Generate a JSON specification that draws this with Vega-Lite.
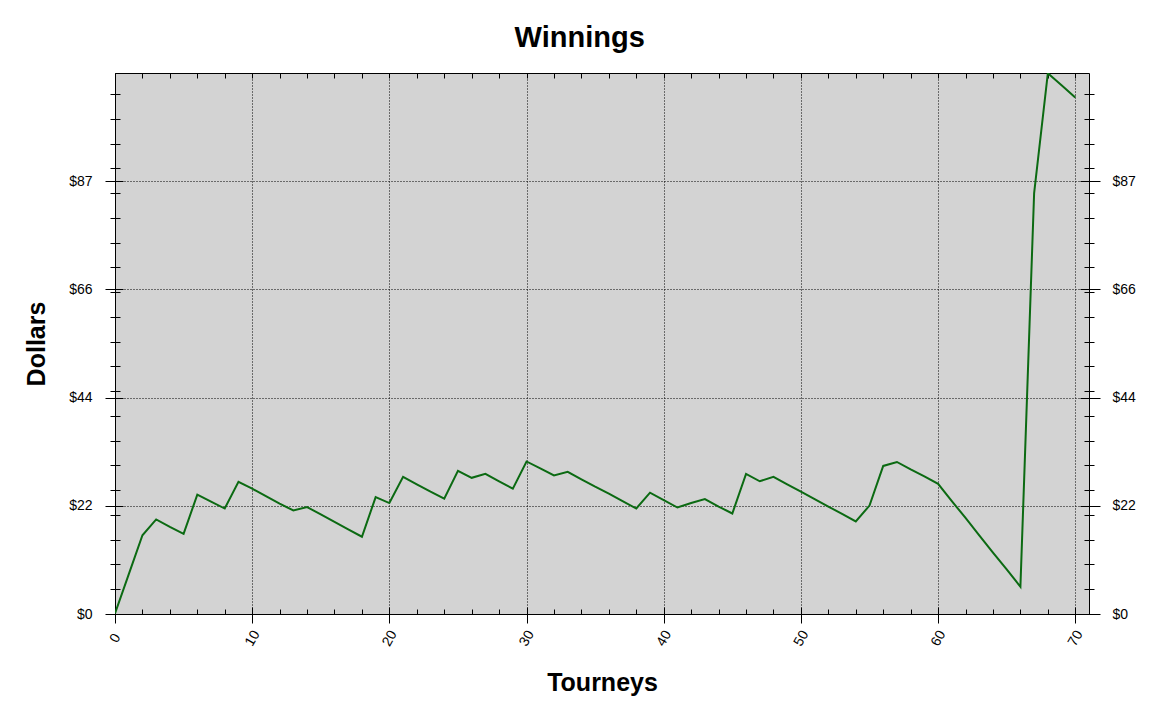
{
  "$schema": "https://vega.github.io/schema/vega-lite/v6.json",
  "width": 974,
  "height": 541,
  "autosize": {"type": "none"},
  "padding": {"left": 115, "top": 73, "right": 73, "bottom": 104},
  "background": "white",
  "title": {"text": "Winnings", "font": "Liberation Sans", "fontSize": 29, "fontWeight": "bold", "color": "black", "anchor": "middle", "frame": "bounds", "baseline": "alphabetic", "offset": -5},
  "config": {
    "view": {"fill": "#d3d3d3", "stroke": "black", "strokeWidth": 1},
    "axis": {"domain": false, "grid": false, "labels": false, "title": null, "tickColor": "black", "tickWidth": 1, "labelFont": "Liberation Sans", "labelFontSize": 14, "labelColor": "black", "titleFont": "Liberation Sans", "titleFontSize": 25, "titleFontWeight": "bold", "titleColor": "black"}
  },
  "data": {"values": [
    {"t": 0, "d": 0.1}, {"t": 1, "d": 8.0}, {"t": 2, "d": 15.9}, {"t": 3, "d": 19.1}, {"t": 4, "d": 17.6},
    {"t": 5, "d": 16.2}, {"t": 6, "d": 24.1}, {"t": 7, "d": 22.7}, {"t": 8, "d": 21.3}, {"t": 9, "d": 26.7},
    {"t": 10, "d": 25.3}, {"t": 11, "d": 23.8}, {"t": 12, "d": 22.3}, {"t": 13, "d": 20.9}, {"t": 14, "d": 21.6},
    {"t": 15, "d": 20.1}, {"t": 16, "d": 18.6}, {"t": 17, "d": 17.1}, {"t": 18, "d": 15.6}, {"t": 19, "d": 23.6},
    {"t": 20, "d": 22.4}, {"t": 21, "d": 27.7}, {"t": 22, "d": 26.2}, {"t": 23, "d": 24.7}, {"t": 24, "d": 23.3},
    {"t": 25, "d": 28.9}, {"t": 26, "d": 27.5}, {"t": 27, "d": 28.3}, {"t": 28, "d": 26.8}, {"t": 29, "d": 25.3},
    {"t": 30, "d": 30.8}, {"t": 31, "d": 29.4}, {"t": 32, "d": 28.0}, {"t": 33, "d": 28.7}, {"t": 34, "d": 27.2},
    {"t": 35, "d": 25.7}, {"t": 36, "d": 24.3}, {"t": 37, "d": 22.8}, {"t": 38, "d": 21.3}, {"t": 39, "d": 24.5},
    {"t": 40, "d": 23.0}, {"t": 41, "d": 21.5}, {"t": 42, "d": 22.4}, {"t": 43, "d": 23.2}, {"t": 44, "d": 21.7},
    {"t": 45, "d": 20.3}, {"t": 46, "d": 28.3}, {"t": 47, "d": 26.8}, {"t": 48, "d": 27.7}, {"t": 49, "d": 26.2},
    {"t": 50, "d": 24.7}, {"t": 51, "d": 23.2}, {"t": 52, "d": 21.7}, {"t": 53, "d": 20.2}, {"t": 54, "d": 18.7},
    {"t": 55, "d": 21.9}, {"t": 56, "d": 29.9}, {"t": 57, "d": 30.7}, {"t": 58, "d": 29.2}, {"t": 59, "d": 27.8},
    {"t": 60, "d": 26.3}, {"t": 61, "d": 22.8}, {"t": 62, "d": 19.4}, {"t": 63, "d": 15.9}, {"t": 64, "d": 12.4},
    {"t": 65, "d": 9.0}, {"t": 66, "d": 5.5}, {"t": 67, "d": 85.0}, {"t": 68, "d": 109.2}, {"t": 69, "d": 106.8},
    {"t": 70, "d": 104.3}
  ]},
  "resolve": {"axis": {"x": "independent", "y": "independent"}},
  "layer": [
    {
      "mark": {"type": "line", "color": "#0b6a12", "strokeWidth": 2, "clip": true},
      "encoding": {
        "x": {"field": "t", "type": "quantitative", "scale": {"domain": [0, 71], "nice": false, "zero": false},
          "axis": {"orient": "bottom", "values": [0, 10, 20, 30, 40, 50, 60, 70], "tickSize": 9, "labels": true, "labelAngle": -60, "labelAlign": "center", "labelBaseline": "middle", "labelPadding": 15, "grid": true, "gridColor": "black", "gridDash": [1, 2], "gridWidth": 1, "gridOpacity": 1, "title": "Tourneys", "titleX": 487, "titleY": 76, "titleBaseline": "alphabetic", "titleAnchor": null}},
        "y": {"field": "d", "type": "quantitative", "scale": {"domain": [0, 109.25], "nice": false, "zero": false},
          "axis": {"orient": "left", "values": [0, 21.85, 43.7, 65.55, 87.4], "tickSize": 10, "labels": true, "labelExpr": "'$' + format(datum.value, '.0f')", "labelPadding": 13, "grid": true, "gridColor": "black", "gridDash": [1, 2], "gridWidth": 1, "gridOpacity": 1, "title": "Dollars", "titleX": -71, "titleY": 270.5, "titleAngle": -90, "titleBaseline": "alphabetic"}}
      }
    },
    {
      "mark": {"type": "point", "opacity": 0},
      "encoding": {
        "x": {"field": "t", "type": "quantitative", "axis": {"orient": "bottom", "values": [0, 10, 20, 30, 40, 50, 60, 70], "tickSize": -7}},
        "y": {"field": "d", "type": "quantitative", "axis": {"orient": "left", "values": [0, 21.85, 43.7, 65.55, 87.4], "tickSize": -8}}
      }
    },
    {
      "mark": {"type": "point", "opacity": 0},
      "encoding": {
        "x": {"field": "t", "type": "quantitative", "axis": {"orient": "bottom", "values": [0, 2, 4, 6, 8, 10, 12, 14, 16, 18, 20, 22, 24, 26, 28, 30, 32, 34, 36, 38, 40, 42, 44, 46, 48, 50, 52, 54, 56, 58, 60, 62, 64, 66, 68, 70], "tickSize": -5}},
        "y": {"field": "d", "type": "quantitative", "axis": {"orient": "left", "values": [0, 5, 10, 15, 20, 25, 30, 35, 40, 45, 50, 55, 60, 65, 70, 75, 80, 85, 90, 95, 100, 105], "tickSize": 5}}
      }
    },
    {
      "mark": {"type": "point", "opacity": 0},
      "encoding": {
        "x": {"field": "t", "type": "quantitative", "axis": {"orient": "top", "values": [0, 2, 4, 6, 8, 10, 12, 14, 16, 18, 20, 22, 24, 26, 28, 30, 32, 34, 36, 38, 40, 42, 44, 46, 48, 50, 52, 54, 56, 58, 60, 62, 64, 66, 68, 70], "tickSize": -5}},
        "y": {"field": "d", "type": "quantitative", "axis": {"orient": "left", "values": [0, 5, 10, 15, 20, 25, 30, 35, 40, 45, 50, 55, 60, 65, 70, 75, 80, 85, 90, 95, 100, 105], "tickSize": -5}}
      }
    },
    {
      "mark": {"type": "point", "opacity": 0},
      "encoding": {
        "x": {"field": "t", "type": "quantitative", "axis": null},
        "y": {"field": "d", "type": "quantitative", "axis": {"orient": "right", "values": [0, 21.85, 43.7, 65.55, 87.4], "tickSize": 11, "labels": true, "labelExpr": "'$' + format(datum.value, '.0f')", "labelPadding": 12}}
      }
    },
    {
      "mark": {"type": "point", "opacity": 0},
      "encoding": {
        "x": {"field": "t", "type": "quantitative", "axis": null},
        "y": {"field": "d", "type": "quantitative", "axis": {"orient": "right", "values": [0, 21.85, 43.7, 65.55, 87.4], "tickSize": -9}}
      }
    },
    {
      "mark": {"type": "point", "opacity": 0},
      "encoding": {
        "x": {"field": "t", "type": "quantitative", "axis": null},
        "y": {"field": "d", "type": "quantitative", "axis": {"orient": "right", "values": [0, 5, 10, 15, 20, 25, 30, 35, 40, 45, 50, 55, 60, 65, 70, 75, 80, 85, 90, 95, 100, 105], "tickSize": 5}}
      }
    },
    {
      "mark": {"type": "point", "opacity": 0},
      "encoding": {
        "x": {"field": "t", "type": "quantitative", "axis": null},
        "y": {"field": "d", "type": "quantitative", "axis": {"orient": "right", "values": [0, 5, 10, 15, 20, 25, 30, 35, 40, 45, 50, 55, 60, 65, 70, 75, 80, 85, 90, 95, 100, 105], "tickSize": -5}}
      }
    }
  ]
}
